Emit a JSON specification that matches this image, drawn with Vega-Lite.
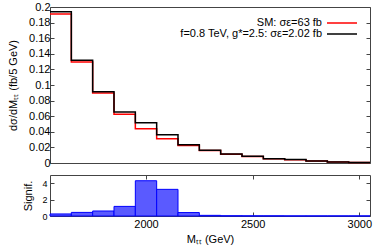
{
  "$schema": "https://vega.github.io/schema/vega-lite/v6.json",
  "padding": {"left": 7, "top": 0, "right": 0, "bottom": 0},
  "bounds": "flush",
  "spacing": 12,
  "config": {
    "font": "Liberation Sans",
    "view": {"stroke": "#444", "strokeWidth": 1},
    "axis": {
      "labelFont": "Liberation Sans", "titleFont": "Liberation Sans",
      "labelFontSize": 11, "titleFontSize": 11, "titleFontWeight": "normal",
      "labelColor": "#000", "titleColor": "#000", "tickColor": "#444",
      "domain": false, "grid": false, "tickSize": -4
    },
    "legend": {
      "labelFont": "Liberation Sans", "labelFontSize": 11, "labelColor": "#000", "padding": 0
    }
  },
  "datasets": {
    "hist": [
      {"series": "SM: σε=63 fb", "edge": 1550, "value": 0.191},
      {"series": "SM: σε=63 fb", "edge": 1650, "value": 0.1295},
      {"series": "SM: σε=63 fb", "edge": 1750, "value": 0.0897},
      {"series": "SM: σε=63 fb", "edge": 1850, "value": 0.0624},
      {"series": "SM: σε=63 fb", "edge": 1950, "value": 0.044},
      {"series": "SM: σε=63 fb", "edge": 2050, "value": 0.031},
      {"series": "SM: σε=63 fb", "edge": 2150, "value": 0.0225},
      {"series": "SM: σε=63 fb", "edge": 2250, "value": 0.016},
      {"series": "SM: σε=63 fb", "edge": 2350, "value": 0.0113},
      {"series": "SM: σε=63 fb", "edge": 2450, "value": 0.0083},
      {"series": "SM: σε=63 fb", "edge": 2550, "value": 0.0054},
      {"series": "SM: σε=63 fb", "edge": 2650, "value": 0.0042},
      {"series": "SM: σε=63 fb", "edge": 2750, "value": 0.0025},
      {"series": "SM: σε=63 fb", "edge": 2850, "value": 0.0012},
      {"series": "SM: σε=63 fb", "edge": 2950, "value": 0.0005},
      {"series": "SM: σε=63 fb", "edge": 3050, "value": 0.0005},
      {"series": "f=0.8 TeV, g*=2.5: σε=2.02 fb", "edge": 1550, "value": 0.194},
      {"series": "f=0.8 TeV, g*=2.5: σε=2.02 fb", "edge": 1650, "value": 0.1317},
      {"series": "f=0.8 TeV, g*=2.5: σε=2.02 fb", "edge": 1750, "value": 0.0915},
      {"series": "f=0.8 TeV, g*=2.5: σε=2.02 fb", "edge": 1850, "value": 0.0654},
      {"series": "f=0.8 TeV, g*=2.5: σε=2.02 fb", "edge": 1950, "value": 0.0517},
      {"series": "f=0.8 TeV, g*=2.5: σε=2.02 fb", "edge": 2050, "value": 0.0363},
      {"series": "f=0.8 TeV, g*=2.5: σε=2.02 fb", "edge": 2150, "value": 0.0235},
      {"series": "f=0.8 TeV, g*=2.5: σε=2.02 fb", "edge": 2250, "value": 0.0163},
      {"series": "f=0.8 TeV, g*=2.5: σε=2.02 fb", "edge": 2350, "value": 0.0116},
      {"series": "f=0.8 TeV, g*=2.5: σε=2.02 fb", "edge": 2450, "value": 0.0086},
      {"series": "f=0.8 TeV, g*=2.5: σε=2.02 fb", "edge": 2550, "value": 0.0056},
      {"series": "f=0.8 TeV, g*=2.5: σε=2.02 fb", "edge": 2650, "value": 0.0044},
      {"series": "f=0.8 TeV, g*=2.5: σε=2.02 fb", "edge": 2750, "value": 0.0027},
      {"series": "f=0.8 TeV, g*=2.5: σε=2.02 fb", "edge": 2850, "value": 0.0013},
      {"series": "f=0.8 TeV, g*=2.5: σε=2.02 fb", "edge": 2950, "value": 0.0006},
      {"series": "f=0.8 TeV, g*=2.5: σε=2.02 fb", "edge": 3050, "value": 0.0006}
    ],
    "sig": [
      {"lo": 1550, "hi": 1650, "s": 0.25},
      {"lo": 1650, "hi": 1750, "s": 0.44},
      {"lo": 1750, "hi": 1850, "s": 0.61},
      {"lo": 1850, "hi": 1950, "s": 1.17},
      {"lo": 1950, "hi": 2050, "s": 4.3},
      {"lo": 2050, "hi": 2150, "s": 3.25},
      {"lo": 2150, "hi": 2250, "s": 0.42},
      {"lo": 2250, "hi": 2350, "s": 0.08},
      {"lo": 2350, "hi": 2450, "s": 0.03},
      {"lo": 2450, "hi": 2550, "s": 0.02},
      {"lo": 2550, "hi": 2650, "s": 0.02},
      {"lo": 2650, "hi": 2750, "s": 0.01},
      {"lo": 2750, "hi": 2850, "s": 0.01},
      {"lo": 2850, "hi": 2950, "s": 0.01},
      {"lo": 2950, "hi": 3050, "s": 0.01}
    ]
  },
  "vconcat": [
    {
      "width": 320,
      "height": 156,
      "data": {"name": "hist"},
      "resolve": {"axis": {"y": "independent"}},
      "layer": [
        {
          "mark": {"type": "line", "interpolate": "step-after", "strokeWidth": 1.5},
          "encoding": {
            "x": {"field": "edge", "type": "quantitative", "scale": {"domain": [1550, 3050], "nice": false}, "axis": null},
            "y": {
              "field": "value", "type": "quantitative",
              "scale": {"domain": [0, 0.2], "nice": false},
              "axis": {
                "values": [0, 0.02, 0.04, 0.06, 0.08, 0.1, 0.12, 0.14, 0.16, 0.18, 0.2],
                "format": "~g", "title": "dσ/dMₜₜ (fb/5 GeV)",
                "labelPadding": 4, "titlePadding": 10
              }
            },
            "color": {
              "field": "series", "type": "nominal",
              "scale": {"domain": ["SM: σε=63 fb", "f=0.8 TeV, g*=2.5: σε=2.02 fb"], "range": ["#ff0000", "#000000"]},
              "sort": ["SM: σε=63 fb", "f=0.8 TeV, g*=2.5: σε=2.02 fb"],
              "legend": {
                "title": null, "orient": "top-right", "offset": 10,
                "symbolType": "M-3,0H3", "symbolSize": 100, "symbolStrokeWidth": 1.5,
                "labelAlign": "right", "labelOffset": -26, "rowPadding": 0, "labelLimit": 400
              }
            }
          }
        },
        {
          "mark": {"type": "line", "interpolate": "step-after", "opacity": 0},
          "encoding": {
            "x": {"field": "edge", "type": "quantitative"},
            "y": {"field": "value", "type": "quantitative",
              "axis": {"orient": "right", "values": [0, 0.02, 0.04, 0.06, 0.08, 0.1, 0.12, 0.14, 0.16, 0.18, 0.2], "labels": false, "title": null}}
          }
        }
      ]
    },
    {
      "width": 320,
      "height": 41,
      "data": {"name": "sig"},
      "resolve": {"axis": {"x": "independent", "y": "independent"}},
      "layer": [
        {
          "mark": {"type": "rect", "fill": "#5a5aff", "stroke": "#0000ff", "strokeWidth": 1},
          "encoding": {
            "x": {"field": "lo", "type": "quantitative", "scale": {"domain": [1550, 3050], "nice": false},
              "axis": {"values": [2000, 2500, 3000], "format": "d", "title": "Mₜₜ (GeV)", "labelPadding": 6, "titlePadding": 4}},
            "x2": {"field": "hi"},
            "y": {"field": "s", "type": "quantitative", "scale": {"domain": [0, 5], "nice": false},
              "axis": {"values": [0, 2, 4], "title": "Signif.", "labelFontSize": 9, "labelPadding": 7, "titlePadding": 8}},
            "y2": {"datum": 0}
          }
        },
        {
          "mark": {"type": "rect", "opacity": 0},
          "encoding": {
            "x": {"field": "lo", "type": "quantitative", "axis": {"orient": "top", "values": [2000, 2500, 3000], "labels": false, "title": null}},
            "x2": {"field": "hi"},
            "y": {"field": "s", "type": "quantitative", "axis": {"orient": "right", "values": [0, 2, 4], "labels": false, "title": null}},
            "y2": {"datum": 0}
          }
        }
      ]
    }
  ]
}
